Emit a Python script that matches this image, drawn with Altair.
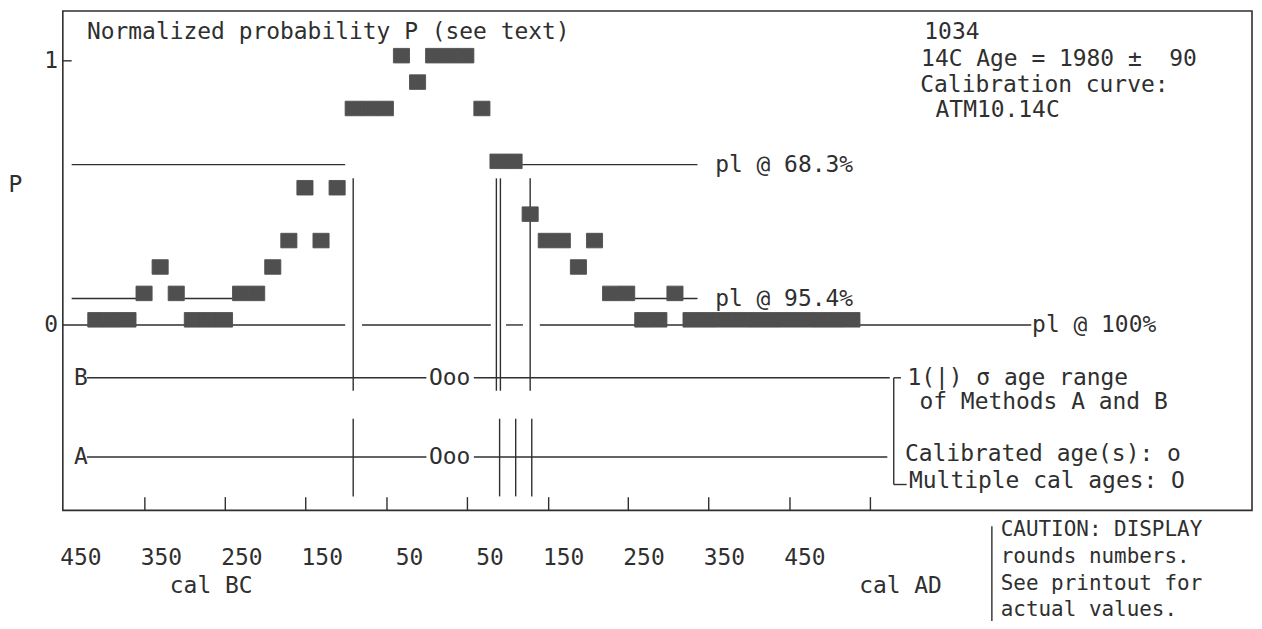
import altair as alt
import pandas as pd

# ---------------- values ----------------
# 20-year calendar bins (start year; negative = cal BC) and their normalized probability
bin_start = [-440, -420, -400, -380, -360, -340, -320, -300, -280, -260, -240, -220,
             -200, -180, -160, -140, -120, -100, -80, -60, -40, -20, 0, 20, 40, 60, 80,
             100, 120, 140, 160, 180, 200, 220, 240, 260, 280, 300, 320, 340, 360, 380,
             400, 420, 440, 460, 480, 500]
bin_p = [0, 0, 0, 0.1, 0.2, 0.1, 0, 0, 0, 0.1, 0.1, 0.2,
         0.3, 0.5, 0.3, 0.5, 0.8, 0.8, 0.8, 1.0, 0.9, 1.0, 1.0, 1.0, 0.8, 0.6, 0.6,
         0.4, 0.3, 0.3, 0.2, 0.3, 0.1, 0.1, 0, 0, 0.1, 0, 0, 0, 0, 0,
         0, 0, 0, 0, 0, 0]
bin_years = 20

# probability-level lines (pl @ 68.3 %, 95.4 %, 100 %) drawn as segments
seg_level = [0.607, 0.607, 0.10, 0.10, 0.10, 0.0, 0.0, 0.0, 0.0]
seg_from = [-460, 100, -460, -320, 240, -471, -99, 80, 122]
seg_to = [-120, 318, -380, -260, 318, -120, 61, 101, 733]
level_labels = ["pl @ 68.3%", "pl @ 95.4%", "pl @ 100%"]
level_values = [0.607, 0.10, 0.0]
level_label_year = [340, 340, 734]

# methods B and A rows
row_names = ["B", "A"]
row_level = [-0.2, -0.5]
row_seg_from = [-441, 40, -441, 40]
row_seg_to = [-19, 557, -19, 554]
row_seg_level = [-0.2, -0.2, -0.5, -0.5]
cal_age_year = 10
b_range_years = [-110, 68, 73, 110]
a_range_years = [-110, 72, 92, 112]

# x axis
tick_years = [-369, -269, -169, -68, 32, 133, 232, 332, 433, 533]
label_years = [-450, -350, -250, -150, -50, 50, 150, 250, 350, 450]
label_texts = ["450", "350", "250", "150", "50", "50", "150", "250", "350", "450"]

# caution note
caution_lines = ["CAUTION: DISPLAY", "rounds numbers.", "See printout for", "actual values."]

# ---------------- scales ----------------
X_DOMAIN = [-471, 1007.4]
Y_DOMAIN = [-0.7019, 1.1887]
xs = alt.Scale(domain=X_DOMAIN, nice=False, zero=False)
ys = alt.Scale(domain=Y_DOMAIN, nice=False, zero=False)

INK = "#2f2f2f"
BLOCK = "#4f4f4f"
FONT = "DejaVu Sans Mono"
FS = 23


def X(f):
    return alt.X(f, type="quantitative", scale=xs, axis=None)


def Y(f):
    return alt.Y(f, type="quantitative", scale=ys, axis=None)


# ---------------- tables ----------------
blocks = pd.DataFrame({"start": bin_start, "p": bin_p})
blocks["end"] = blocks["start"] + bin_years
blocks["lo"] = blocks["p"] - 0.008
blocks["hi"] = blocks["p"] + 0.047

segs = pd.DataFrame({"x": seg_from + row_seg_from,
                     "x2": seg_to + row_seg_to,
                     "y": seg_level + row_seg_level})

verts = pd.DataFrame({
    "x": b_range_years + a_range_years,
    "y": [0.555] * len(b_range_years) + [-0.355] * len(a_range_years),
    "y2": [-0.249] * len(b_range_years) + [-0.649] * len(a_range_years),
})

ticks = pd.DataFrame({"x": tick_years, "y": [Y_DOMAIN[0]] * len(tick_years),
                      "y2": [Y_DOMAIN[0] + 0.05] * len(tick_years)})

base_rules = pd.DataFrame({
    # y tick at P = 1, legend bracket, caution bar
    "x": [-471, 562, 562, 562, 684],
    "x2": [-460, 571, 578, 562, 684],
    "y": [1.0, -0.2, -0.604, -0.2, -0.762],
    "y2": [1.0, -0.2, -0.604, -0.604, -1.15],
})

left_text = pd.DataFrame({
    "t": ["Normalized probability P (see text)", "1034", "14C Age = 1980 \u00b1\u00a0 90",
          "Calibration curve:", "ATM10.14C",
          "1(|) \u03c3 age range", "of Methods A and B",
          "Calibrated age(s): o", "Multiple cal ages: O",
          "cal BC", "cal AD"]
    + level_labels + row_names,
    "x": [-441, 600, 596, 595, 614, 579, 594, 576, 581, -338, 519]
    + level_label_year + [-457, -457],
    "y": [1.109, 1.109, 1.008, 0.909, 0.815, -0.2, -0.29, -0.49, -0.592, -0.989, -0.989]
    + level_values + row_level,
})

caution = pd.DataFrame({"t": caution_lines, "x": [695] * 4,
                        "y": [-0.777, -0.879, -0.981, -1.079]})

right_text = pd.DataFrame({"t": ["1", "0"], "x": [-477, -477], "y": [1.0, 0.0]})
p_text = pd.DataFrame({"t": ["P"], "x": [-530], "y": [0.528]})
ooo = pd.DataFrame({"t": ["Ooo", "Ooo"], "x": [cal_age_year] * 2, "y": row_level})
xlab = pd.DataFrame({"t": label_texts, "x": label_years, "y": [-0.883] * len(label_years)})

# ---------------- layers ----------------
seg_layer = alt.Chart(segs).mark_rule(color=INK, strokeWidth=1.4).encode(
    x=X("x"), x2="x2", y=Y("y"))
vert_layer = alt.Chart(verts).mark_rule(color=INK, strokeWidth=1.4).encode(
    x=X("x"), y=Y("y"), y2="y2")
tick_layer = alt.Chart(ticks).mark_rule(color=INK, strokeWidth=1.4).encode(
    x=X("x"), y=Y("y"), y2="y2")
misc_layer = alt.Chart(base_rules).mark_rule(color=INK, strokeWidth=1.4).encode(
    x=X("x"), x2="x2", y=Y("y"), y2="y2")
block_layer = alt.Chart(blocks).mark_rect(
    color=BLOCK, stroke=BLOCK, strokeWidth=0.9).encode(
    x=X("start"), x2="end", y=Y("lo"), y2="hi")

txt = dict(font=FONT, color=INK, baseline="middle")
left_layer = alt.Chart(left_text).mark_text(align="left", fontSize=FS, **txt).encode(
    x=X("x"), y=Y("y"), text="t")
caution_layer = alt.Chart(caution).mark_text(align="left", fontSize=21, **txt).encode(
    x=X("x"), y=Y("y"), text="t")
right_layer = alt.Chart(right_text).mark_text(align="right", fontSize=FS, **txt).encode(
    x=X("x"), y=Y("y"), text="t")
p_layer = alt.Chart(p_text).mark_text(align="center", fontSize=FS, **txt).encode(
    x=X("x"), y=Y("y"), text="t")
ooo_layer = alt.Chart(ooo).mark_text(align="center", fontSize=FS, **txt).encode(
    x=X("x"), y=Y("y"), text="t")
xlab_layer = alt.Chart(xlab).mark_text(align="right", dx=22, fontSize=FS, **txt).encode(
    x=X("x"), y=Y("y"), text="t")

chart = alt.layer(
    seg_layer, vert_layer, tick_layer, misc_layer, block_layer,
    left_layer, caution_layer, right_layer, p_layer, ooo_layer, xlab_layer,
).properties(
    width=1193, height=501,
    autosize=alt.AutoSizeParams(type="none"),
    padding={"left": 55, "top": 2, "right": 2, "bottom": 110},
    background="white",
).configure_view(stroke=INK, strokeWidth=1.6)

chart.save("out.html", embed_options={"renderer": "svg", "actions": False})
